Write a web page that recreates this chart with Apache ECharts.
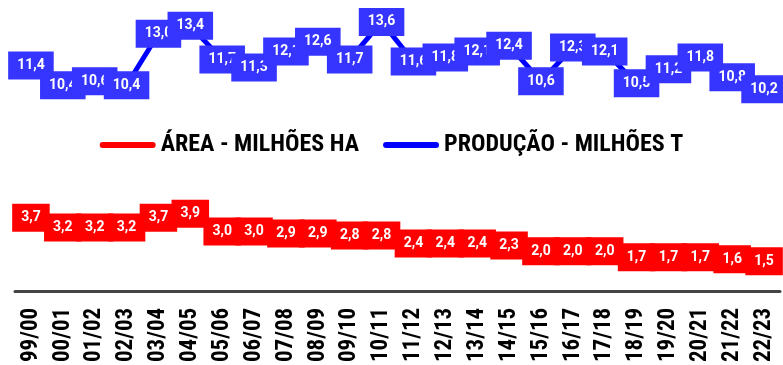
<!DOCTYPE html>
<html>
<head>
<meta charset="utf-8">
<script src="https://cdn.jsdelivr.net/npm/echarts@6/dist/echarts.min.js"></script>
<style>
html,body{margin:0;padding:0;background:#fff;}
#chart{width:783px;height:365px;}
</style>
</head>
<body>
<div id="chart"></div>
<script>
//safras
var safras = ['99/00','00/01','01/02','02/03','03/04','04/05','05/06','06/07','07/08','08/09','09/10','10/11',
	'11/12','12/13','13/14','14/15','15/16','16/17','17/18','18/19','19/20','20/21','21/22','22/23'];
//area - milhoes ha
var area = [3.7,3.2,3.2,3.2,3.7,3.9,3.0,3.0,2.9,2.9,2.8,2.8,2.4,2.4,2.4,2.3,2.0,2.0,2.0,1.7,1.7,1.7,1.6,1.5];
//producao - milhoes t
var producao = [11.4,10.4,10.6,10.4,13.0,13.4,11.7,11.3,12.1,12.6,11.7,13.6,11.6,11.8,12.1,12.4,10.6,12.3,12.1,10.5,11.2,11.8,10.8,10.2];

var narrow = "'Liberation Sans Narrow','Arial Narrow','Roboto Condensed',sans-serif";
var pill = 'path://M3,0 L53,0 A3,3 0 0 1 53,6 L3,6 A3,3 0 0 1 3,0 Z';

function fmt(p){
	return p.value.toFixed(1).replace('.', ',');
}

var myChart = echarts.init(document.getElementById('chart'));
var option = {
	animation:false,
	grid:{
		left:15,
		right:3,
		top:14,
		bottom:73
	},
	legend:{
		top:128,
		left:'center',
		itemWidth:56,
		itemHeight:6,
		itemGap:24,
		textStyle:{
			fontFamily:narrow,
			fontWeight:'bold',
			fontSize:24,
			color:'#000'
		},
		data:[
			{name:'ÁREA - MILHÕES HA', icon:pill},
			{name:'PRODUÇÃO - MILHÕES T', icon:pill}
		]
	},
	xAxis:{
		type:'category',
		data:safras,
		boundaryGap:true,
		axisLine:{lineStyle:{color:'#444',width:3}},
		axisTick:{show:false},
		axisLabel:{
			interval:0,
			rotate:90,
			margin:17,
			color:'#000',
			fontFamily:narrow,
			fontWeight:'bold',
			fontSize:23
		}
	},
	yAxis:{
		type:'value',
		min:0,
		max:14,
		show:false,
		splitLine:{show:false}
	},
	series:[
		{
			name:'ÁREA - MILHÕES HA',
			type:'line',
			data:area,
			symbol:'circle',
			symbolSize:1,
			showSymbol:true,
			color:'#ff0000',
			lineStyle:{color:'#ff0000',width:5},
			label:{
				show:true,
				position:'inside',
				formatter:fmt,
				backgroundColor:'#ff0000',
				color:'#fff',
				fontFamily:'Roboto',
				fontWeight:'bold',
				fontSize:14,
				padding:[7,9]
			}
		},
		{
			name:'PRODUÇÃO - MILHÕES T',
			type:'line',
			data:producao,
			symbol:'circle',
			symbolSize:1,
			showSymbol:true,
			color:'#0000ff',
			lineStyle:{color:'#0000ff',width:5},
			label:{
				show:true,
				position:'inside',
				formatter:fmt,
				backgroundColor:'#3535ff',
				color:'#fff',
				fontFamily:'Roboto',
				fontWeight:'bold',
				fontSize:14,
				padding:[7,9]
			}
		}
	]
};
myChart.setOption(option);
</script>
</body>
</html>
